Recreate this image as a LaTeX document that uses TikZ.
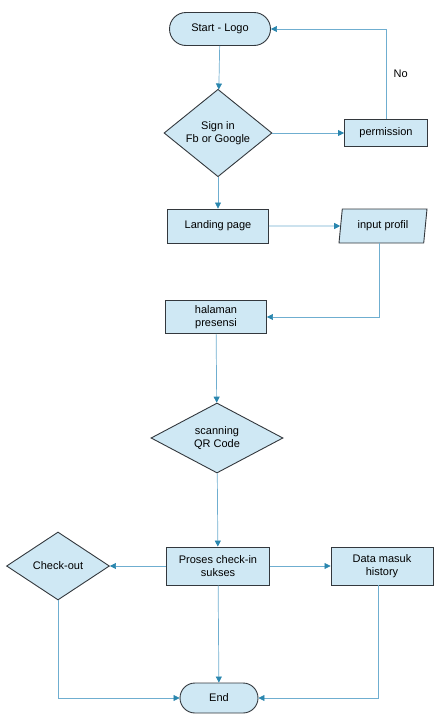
\documentclass[tikz,border=0pt]{standalone}
\usepackage{fontspec}
\setmainfont{Liberation Sans}
\usetikzlibrary{shapes.geometric, shapes.misc, arrows.meta}
\definecolor{boxfill}{HTML}{CFE8F4}
\definecolor{boxline}{HTML}{33383D}
\definecolor{linkline}{HTML}{6FAED0}
\definecolor{linktip}{HTML}{2A86AE}

\begin{document}
\begin{tikzpicture}[x=1pt, y=-1pt,
  font=\fontsize{11}{13}\selectfont,
  base/.style={draw=boxline, line width=0.9pt, fill=boxfill, align=center, inner sep=2pt},
  terminal/.style={base, rounded rectangle, minimum width=105pt, minimum height=33pt},
  process/.style={base, rectangle, minimum width=101pt, minimum height=34pt},
  decision/.style={base, diamond, minimum width=108pt, minimum height=66pt, inner sep=0pt},
  inout/.style={base, trapezium, trapezium left angle=77, trapezium right angle=103,
    trapezium stretches body, minimum width=88pt, minimum height=34pt},
  link/.style={draw=linkline, line width=0.7pt, -{Triangle[length=6pt, width=6pt, color=linktip]}}]
\useasboundingbox (0,0) rectangle (436,715);

\node (start) [terminal] at (220,29) {Start - Logo};
\node (sign) [decision] at (218,133) {Sign in\\Fb or Google};
\node (perm) [process, minimum width=83pt, minimum height=27pt] at (386,133) {permission};
\node (land) [process] at (218,226) {Landing page};
\node (input) [inout] at (383,226) {input profil};
\node (hal) [process, minimum height=33pt] at (216,317) {halaman\\presensi};
\node (scan) [decision, minimum width=132pt, minimum height=70pt] at (217,438) {scanning\\QR Code};
\node (proses) [process, minimum width=103pt, minimum height=38pt] at (218,566) {Proses check-in\\sukses};
\node (out) [decision, minimum width=103pt, minimum height=68pt] at (58,566) {Check-out};
\node (hist) [process, minimum width=102pt, minimum height=38pt] at (382,566) {Data masuk\\history};
\node (end) [terminal, minimum width=82pt, minimum height=30pt] at (219,698) {End};

\draw[link] (start) -- (sign);
\draw[link] (sign) -- (perm);
\draw[link] (perm.north) |- node[pos=0.25, right=4pt, text=black] {No} (start.east);
\draw[link] (sign) -- (land);
\draw[link] (land) -- (input);
\draw[link] ([xshift=-4pt]input.south) |- (hal.east);
\draw[link] (hal) -- (scan);
\draw[link] (scan) -- (proses);
\draw[link] (proses) -- (out);
\draw[link] (proses) -- (hist);
\draw[link] (proses) -- (end);
\draw[link] (out.south) |- (end.west);
\draw[link] ([xshift=-4pt]hist.south) |- (end.east);
\end{tikzpicture}
\end{document}
